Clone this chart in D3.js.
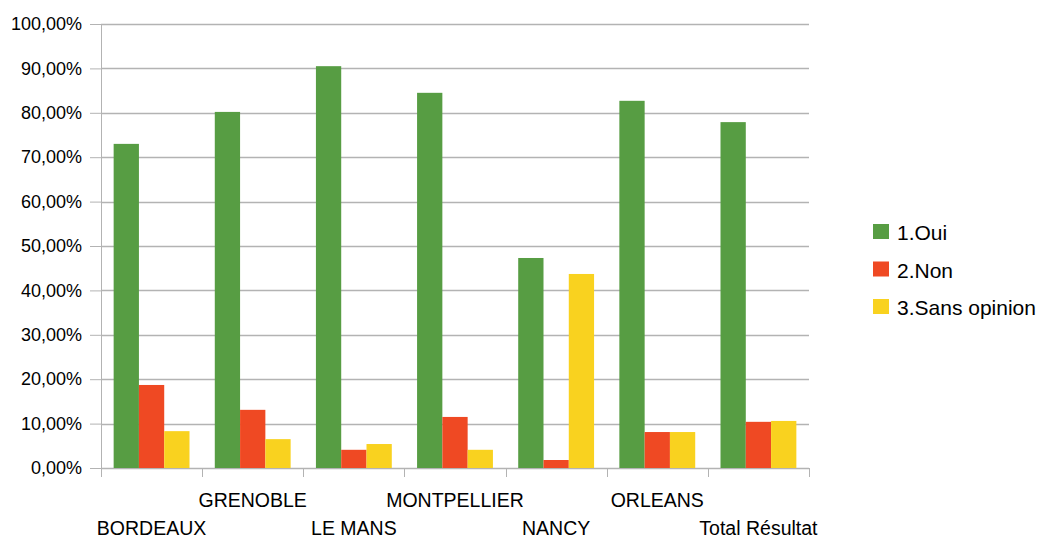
<!DOCTYPE html>
<html>
<head>
<meta charset="utf-8">
<script src="https://cdn.jsdelivr.net/npm/d3@7"></script>
<style>
  html, body { margin: 0; padding: 0; background: #fff; }
  svg { display: block; font-family: "Liberation Sans", Arial, sans-serif; }
</style>
</head>
<body>
<svg id="chart" width="1038" height="539"></svg>
<script>
// Survey results per site
const sites = ["BORDEAUX", "GRENOBLE", "LE MANS", "MONTPELLIER", "NANCY", "ORLEANS", "Total Résultat"];
const answers = ["1.Oui", "2.Non", "3.Sans opinion"];
const oui = [0.730, 0.802, 0.905, 0.845, 0.473, 0.827, 0.779];
const non = [0.187, 0.131, 0.041, 0.115, 0.018, 0.081, 0.104];
const sansOpinion = [0.083, 0.065, 0.054, 0.041, 0.437, 0.081, 0.106];
const yTicks = [0, 0.1, 0.2, 0.3, 0.4, 0.5, 0.6, 0.7, 0.8, 0.9, 1.0];
const colors = ["#579d43", "#ef4923", "#f9d21f"];

const seriesValues = [oui, non, sansOpinion];
const rows = sites.map((s, i) => ({
  site: s,
  values: answers.map((a, k) => ({ answer: a, value: seriesValues[k][i] }))
}));

const svg = d3.select("#chart");
const plotLeft = 101, plotRight = 809, plotTop = 24, plotBottom = 468;

const fr = d3.formatLocale({ decimal: ",", thousands: "\u00a0", grouping: [3], currency: ["", " €"], percent: "%" });
const pct = fr.format(".2%");

const y = d3.scaleLinear().domain([0, 1]).range([plotBottom, plotTop]);
const x0 = d3.scaleBand().domain(sites).range([plotLeft, plotRight]).paddingInner(0.25).paddingOuter(0.125);
const x1 = d3.scaleBand().domain(answers).range([0, x0.bandwidth()]);
const color = d3.scaleOrdinal().domain(answers).range(colors);

// Y axis labels and ticks
const yAxis = svg.append("g")
  .attr("transform", `translate(${plotLeft},0)`)
  .call(d3.axisLeft(y).tickValues(yTicks).tickFormat(pct).tickSize(11).tickPadding(8));
yAxis.select(".domain").remove();
yAxis.selectAll(".tick line").attr("stroke", "#b3b3b3");
yAxis.selectAll(".tick text").attr("font-size", "18px").attr("fill", "#000")
  .attr("font-family", "Liberation Sans, Arial, sans-serif");

// Horizontal gridlines
svg.append("g").selectAll("line")
  .data(yTicks)
  .join("line")
  .attr("x1", plotLeft).attr("x2", plotRight)
  .attr("y1", d => Math.round(y(d)) + 0.5).attr("y2", d => Math.round(y(d)) + 0.5)
  .attr("stroke", "#b3b3b3").attr("stroke-width", 1.3);

// Bars
svg.append("g").selectAll("g")
  .data(rows)
  .join("g")
  .attr("transform", d => `translate(${x0(d.site)},0)`)
  .selectAll("rect")
  .data(d => d.values)
  .join("rect")
  .attr("x", d => x1(d.answer))
  .attr("width", x1.bandwidth())
  .attr("y", d => y(d.value))
  .attr("height", d => y(0) - y(d.value) + 1)
  .attr("fill", d => color(d.answer));

// Axis lines
svg.append("line")
  .attr("x1", plotLeft + 0.5).attr("x2", plotLeft + 0.5).attr("y1", plotTop).attr("y2", plotBottom + 9)
  .attr("stroke", "#b3b3b3");
svg.append("line")
  .attr("x1", plotLeft).attr("x2", plotRight).attr("y1", plotBottom + 0.5).attr("y2", plotBottom + 0.5)
  .attr("stroke", "#b3b3b3");

// Category boundary ticks
const bounds = d3.range(sites.length + 1).map(i => plotLeft + i * x0.step());
svg.append("g").selectAll("line")
  .data(bounds)
  .join("line")
  .attr("x1", d => Math.round(d) + 0.5).attr("x2", d => Math.round(d) + 0.5)
  .attr("y1", plotBottom).attr("y2", plotBottom + 9)
  .attr("stroke", "#b3b3b3");

// Category labels, staggered on two rows
svg.append("g").selectAll("text")
  .data(sites)
  .join("text")
  .attr("x", d => x0(d) + x0.bandwidth() / 2)
  .attr("y", (d, i) => i % 2 === 1 ? 507 : 535)
  .attr("text-anchor", "middle")
  .attr("font-size", "19.5px")
  .attr("fill", "#000")
  .text(d => d);

// Legend
const legend = svg.append("g").attr("transform", "translate(873,224)");
const item = legend.selectAll("g")
  .data(answers)
  .join("g")
  .attr("transform", (d, i) => `translate(0,${i * 37.5})`);
item.append("rect")
  .attr("width", 16).attr("height", 15)
  .attr("fill", d => color(d));
item.append("text")
  .attr("x", 24).attr("y", 16)
  .attr("font-size", "21px")
  .attr("fill", "#000")
  .text(d => d);
</script>
</body>
</html>
